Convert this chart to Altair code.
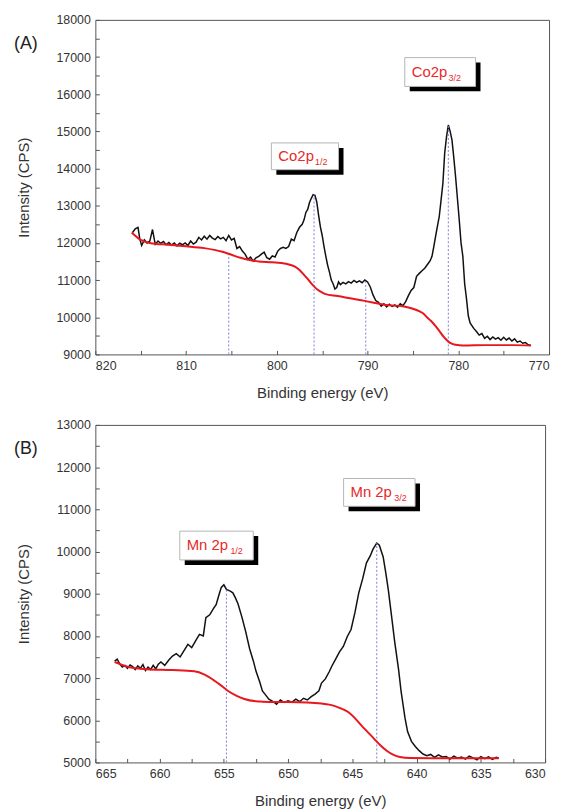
import altair as alt
import pandas as pd

# ---------------- Panel A: Co 2p ----------------
a_black_E = [815.9, 815.6, 815.3, 815.1, 814.9, 814.6, 814.3, 814.0, 813.7, 813.4, 813.1, 812.8, 812.5, 812.2,
             811.9, 811.6, 811.3, 811.0, 810.7, 810.4, 810.1, 809.8, 809.5, 809.2, 808.9, 808.6, 808.3, 808.0,
             807.7, 807.4, 807.1, 806.8, 806.5, 806.2, 805.9, 805.6, 805.3, 805.0, 804.7, 804.4, 804.1, 803.8,
             803.5, 803.2, 802.9, 802.6, 802.3, 802.0, 801.7, 801.4, 801.1, 800.8, 800.5, 800.2, 799.9, 799.6,
             799.3, 799.0, 798.7, 798.4, 798.1, 797.8, 797.5, 797.2, 797.0, 796.8, 796.6, 796.4, 796.2, 796.0,
             795.8, 795.6, 795.4, 795.2, 795.0, 794.8, 794.6, 794.4, 794.2, 794.0, 793.8, 793.6, 793.4, 793.2,
             793.0, 792.7, 792.4, 792.1, 791.8, 791.5, 791.2, 790.9, 790.6, 790.3, 790.0, 789.7, 789.4, 789.1,
             788.8, 788.5, 788.2, 787.9, 787.6, 787.3, 787.0, 786.7, 786.4, 786.1, 785.8, 785.5, 785.2, 784.9,
             784.6, 784.3, 784.0, 783.7, 783.4, 783.1, 782.9, 782.7, 782.5, 782.3, 782.1, 781.9, 781.7, 781.5,
             781.3, 781.1, 780.9, 780.7, 780.5, 780.3, 780.1, 779.9, 779.7, 779.5, 779.3, 779.1, 778.9, 778.7,
             778.5, 778.3, 778.0, 777.7, 777.4, 777.1, 776.8, 776.5, 776.2, 775.9, 775.6, 775.3, 775.0, 774.7,
             774.4, 774.1, 773.8, 773.5, 773.2, 772.9, 772.6, 772.3, 772.0]
a_black_I = [12280, 12380, 12420, 12100, 11930, 12080, 12000, 12050, 12360, 11960, 12050, 11990, 12040, 11950,
             12010, 11940, 12000, 11920, 11990, 11950, 12000, 11930, 12050, 11970, 12020, 12150, 12080, 12180,
             12100, 12200, 12130, 12090, 12170, 12110, 12150, 12060, 12200, 12080, 12120, 11850, 11900, 11780,
             11700, 11560, 11620, 11510, 11600, 11640, 11700, 11750, 11600, 11560, 11650, 11620, 11780, 11850,
             11880, 11850, 11900, 12100, 12060, 12280, 12420, 12500, 12620, 12820, 12900, 13085, 13200, 13300,
             13280, 13100, 12750, 12430, 12200, 11900, 11640, 11400, 11215, 11000, 10900, 10760, 10800, 10950,
             10880, 10940, 10900, 10960, 10920, 10990, 10940, 10980, 10930, 11000, 10950, 10815, 10600, 10450,
             10400, 10300, 10360, 10280, 10350, 10290, 10330, 10270, 10360, 10310, 10420, 10580, 10720, 10800,
             11100, 11180, 11250, 11320, 11420, 11520, 11640, 11900, 12180, 12450, 12710, 13150, 13600, 14420,
             14850, 15170, 15000, 14770, 14300, 13780, 13200, 12630, 12000, 11640, 10900, 10500, 10040, 9850,
             9775, 9700, 9615, 9520, 9560, 9430, 9490, 9400, 9470, 9410, 9450, 9380, 9460, 9390,
             9440, 9360, 9420, 9330, 9360, 9300, 9320, 9260, 9240]

a_red_E = [816.0, 815.0, 814.0, 812.0, 810.0, 808.0, 806.0, 805.0, 804.0, 803.0, 802.0, 800.5, 799.0, 798.0,
           797.5, 797.0, 796.6, 796.3, 795.9, 795.5, 795.1, 794.7, 793.3, 790.3, 788.0, 786.0, 785.0, 784.2,
           783.8, 783.5, 783.0, 782.5, 782.0, 781.6, 781.2, 780.9, 780.3, 779.5, 777.0, 774.0, 772.0]
a_red_I = [12280, 12080, 12000, 11950, 11910, 11860, 11760, 11680, 11600, 11540, 11500, 11480, 11440, 11360,
           11270, 11140, 11030, 10940, 10830, 10740, 10680, 10630, 10570, 10440, 10330, 10290, 10230, 10150,
           10090, 10010, 9900, 9760, 9600, 9470, 9370, 9310, 9260, 9240, 9250, 9250, 9240]

a_peak_E = [805.3, 795.9, 790.2, 781.1]
a_peak_top = [11700, 13300, 10950, 15170]

a_lab_main = ["Co2p", "Co2p"]
a_lab_sub = ["3/2", "1/2"]
a_box_left = [785.9, 800.6]
a_box_right = [778.1, 793.2]
a_box_top = [16985, 14690]
a_box_bottom = [16210, 13970]

# ---------------- Panel B: Mn 2p ----------------
b_black_E = [663.5, 663.3, 663.1, 662.9, 662.7, 662.5, 662.3, 662.1, 661.9, 661.7, 661.5, 661.3, 661.1, 660.9,
             660.7, 660.5, 660.3, 660.1, 659.9, 659.6, 659.3, 659.0, 658.7, 658.4, 658.1, 657.8, 657.5, 657.2,
             656.9, 656.6, 656.4, 656.1, 655.8, 655.6, 655.4, 655.2, 655.0, 654.8, 654.5, 654.3, 654.1, 653.9,
             653.6, 653.3, 653.0, 652.7, 652.5, 652.2, 652.0, 651.8, 651.5, 651.2, 650.9, 650.6, 650.3, 650.0,
             649.7, 649.4, 649.1, 648.8, 648.5, 648.2, 647.9, 647.6, 647.4, 647.1, 646.8, 646.6, 646.3, 646.0,
             645.7, 645.4, 645.1, 644.8, 644.5, 644.2, 643.9, 643.6, 643.4, 643.1, 642.9, 642.6, 642.4, 642.2,
             642.0, 641.7, 641.4, 641.2, 640.9, 640.7, 640.4, 640.1, 639.8, 639.5, 639.2, 638.9, 638.6, 638.3,
             638.0, 637.7, 637.4, 637.1, 636.8, 636.5, 636.2, 635.9, 635.6, 635.3, 635.0, 634.7, 634.4, 634.1,
             633.8, 633.6]
b_black_I = [7400, 7450, 7330, 7260, 7300, 7230, 7310, 7270, 7200, 7290, 7230, 7320, 7180, 7260,
             7200, 7300, 7220, 7330, 7380, 7300, 7420, 7520, 7580, 7500, 7650, 7800, 7720, 7880,
             8035, 8000, 8430, 8500, 8650, 8740, 8950, 9150, 9210, 9100, 9060, 9020, 8900, 8760,
             8450, 8100, 7700, 7400, 7165, 6900, 6695, 6620, 6500, 6450, 6380, 6480, 6420, 6460,
             6430, 6500, 6440, 6520, 6480, 6560, 6620, 6700, 6880, 6980, 7150, 7280, 7450, 7620,
             7750, 7980, 8150, 8550, 9020, 9350, 9730, 9900, 10050, 10200, 10150, 9870, 9500, 9090,
             8600, 7850, 7200, 6670, 6050, 5730, 5500, 5380, 5280, 5200, 5160, 5190, 5120, 5180,
             5130, 5140, 5080, 5150, 5100, 5130, 5080, 5150, 5110, 5060, 5140, 5090, 5130, 5070,
             5120, 5100]

b_red_E = [663.5, 662.5, 661.0, 659.0, 657.3, 656.5, 655.7, 655.2, 654.7, 654.0, 653.4, 652.5, 652.0, 651.0,
           650.0, 648.5, 647.4, 646.8, 646.3, 645.8, 645.3, 644.8, 644.3, 643.8, 643.3, 642.8, 642.3, 641.8,
           641.3, 640.5, 638.0, 633.6]
b_red_I = [7380, 7270, 7210, 7190, 7160, 7080, 6930, 6820, 6700, 6580, 6505, 6450, 6440, 6430,
           6430, 6420, 6395, 6370, 6330, 6270, 6190, 6050, 5880, 5720, 5560, 5400, 5270, 5180,
           5130, 5105, 5100, 5100]

b_peak_E = [654.8, 643.1]
b_peak_top = [9150, 10200]

b_lab_main = ["Mn 2p", "Mn 2p"]
b_lab_sub = ["1/2", "3/2"]
b_box_left = [658.43, 645.68]
b_box_right = [652.71, 640.12]
b_box_top = [10482, 11730]
b_box_bottom = [9800, 11071]

FONT = "Liberation Sans"
RED = "#e8161d"
TEXT_RED = "#e52a2a"


def panel(black_E, black_I, red_E, red_I, peak_E, peak_top, lab_main, lab_sub,
          box_left, box_right, box_top, box_bottom, xdom, xvals, xmajor,
          ydom, yvals, tag, w, h, sub_dx):
    xs = alt.Scale(domain=xdom, reverse=True, nice=False, zero=False)
    ys = alt.Scale(domain=ydom, nice=False, zero=False)
    xax = alt.Axis(values=xvals, format="d",
                   labelExpr=f"datum.value % {xmajor} == 0 ? datum.label : ''",
                   title="Binding energy (eV)", labelOverlap=False)
    yax = alt.Axis(values=yvals, format="d",
                   labelExpr="datum.value % 1000 == 0 ? datum.label : ''",
                   title="Intensity (CPS)", labelOverlap=False)

    def X(f):
        return alt.X(f, scale=xs, axis=xax)

    def Y(f):
        return alt.Y(f, scale=ys, axis=yax)

    black = alt.Chart(pd.DataFrame({"E": black_E, "I": black_I})).mark_line(
        color="#111111", strokeWidth=1.5).encode(x=X("E:Q"), y=Y("I:Q"))
    red = alt.Chart(pd.DataFrame({"E": red_E, "I": red_I})).mark_line(
        color=RED, strokeWidth=2, interpolate="monotone").encode(x=X("E:Q"), y=Y("I:Q"))
    pk = pd.DataFrame({"E": peak_E, "top": peak_top, "base": [ydom[0]] * len(peak_E)})
    peaks = alt.Chart(pk).mark_rule(color="#7d7de0", strokeWidth=1, strokeDash=[2, 2]).encode(
        x=X("E:Q"), y=Y("base:Q"), y2="top:Q")

    bx = pd.DataFrame({"l": box_left, "r": box_right, "t": box_top, "b": box_bottom,
                       "main": lab_main, "sub": lab_sub,
                       "c": [(t + b) / 2 for t, b in zip(box_top, box_bottom)]})
    shadow = alt.Chart(bx).mark_rect(color="black", xOffset=5, x2Offset=5, yOffset=5, y2Offset=5).encode(
        x=X("l:Q"), x2="r:Q", y=Y("t:Q"), y2="b:Q")
    box = alt.Chart(bx).mark_rect(fill="white", stroke="#b5b5b5", strokeWidth=1).encode(
        x=X("l:Q"), x2="r:Q", y=Y("t:Q"), y2="b:Q")
    main = alt.Chart(bx).mark_text(align="left", baseline="middle", dx=7, font=FONT,
                                   fontSize=15, color=TEXT_RED).encode(
        x=X("l:Q"), y=Y("c:Q"), text="main:N")
    sub = alt.Chart(bx).mark_text(align="left", baseline="middle", dx=sub_dx, dy=6, font=FONT,
                                  fontSize=9, color=TEXT_RED).encode(
        x=X("l:Q"), y=Y("c:Q"), text="sub:N")
    tg = alt.Chart(pd.DataFrame({"t": [tag]})).mark_text(
        font=FONT, fontSize=18, color="#222222", align="center", baseline="middle").encode(
        text="t:N", x=alt.value(-70), y=alt.value(24))

    return alt.layer(black, peaks, red, shadow, box, main, sub, tg).properties(width=w, height=h)


pA = panel(a_black_E, a_black_I, a_red_E, a_red_I, a_peak_E, a_peak_top, a_lab_main, a_lab_sub,
           a_box_left, a_box_right, a_box_top, a_box_bottom, [770, 820],
           [770 + 5 * i for i in range(11)], 10, [9000, 18000],
           [9000 + 500 * i for i in range(19)], "(A)", 457, 337, 44)
pB = panel(b_black_E, b_black_I, b_red_E, b_red_I, b_peak_E, b_peak_top, b_lab_main, b_lab_sub,
           b_box_left, b_box_right, b_box_top, b_box_bottom, [630, 665],
           [630 + 2.5 * i for i in range(15)], 5, [5000, 13000],
           [5000 + 500 * i for i in range(17)], "(B)", 453, 340, 51)

chart = alt.vconcat(pA, pB, spacing=17).properties(
    padding={"left": 5, "top": 2, "right": 5, "bottom": 5}, background="white"
).configure_view(stroke="#555555", strokeWidth=1).configure_axis(
    grid=False, domain=False, offset=-4, tickSize=4, tickColor="#555555", tickWidth=1,
    labelFont=FONT, labelFontSize=12.5, labelColor="#333333", labelPadding=5,
    titleFont=FONT, titleFontSize=15, titleFontWeight="normal", titleColor="#333333"
).configure_axisX(titlePadding=14).configure_axisY(titlePadding=25)

chart.save("out.html", embed_options={"renderer": "svg", "actions": False})
